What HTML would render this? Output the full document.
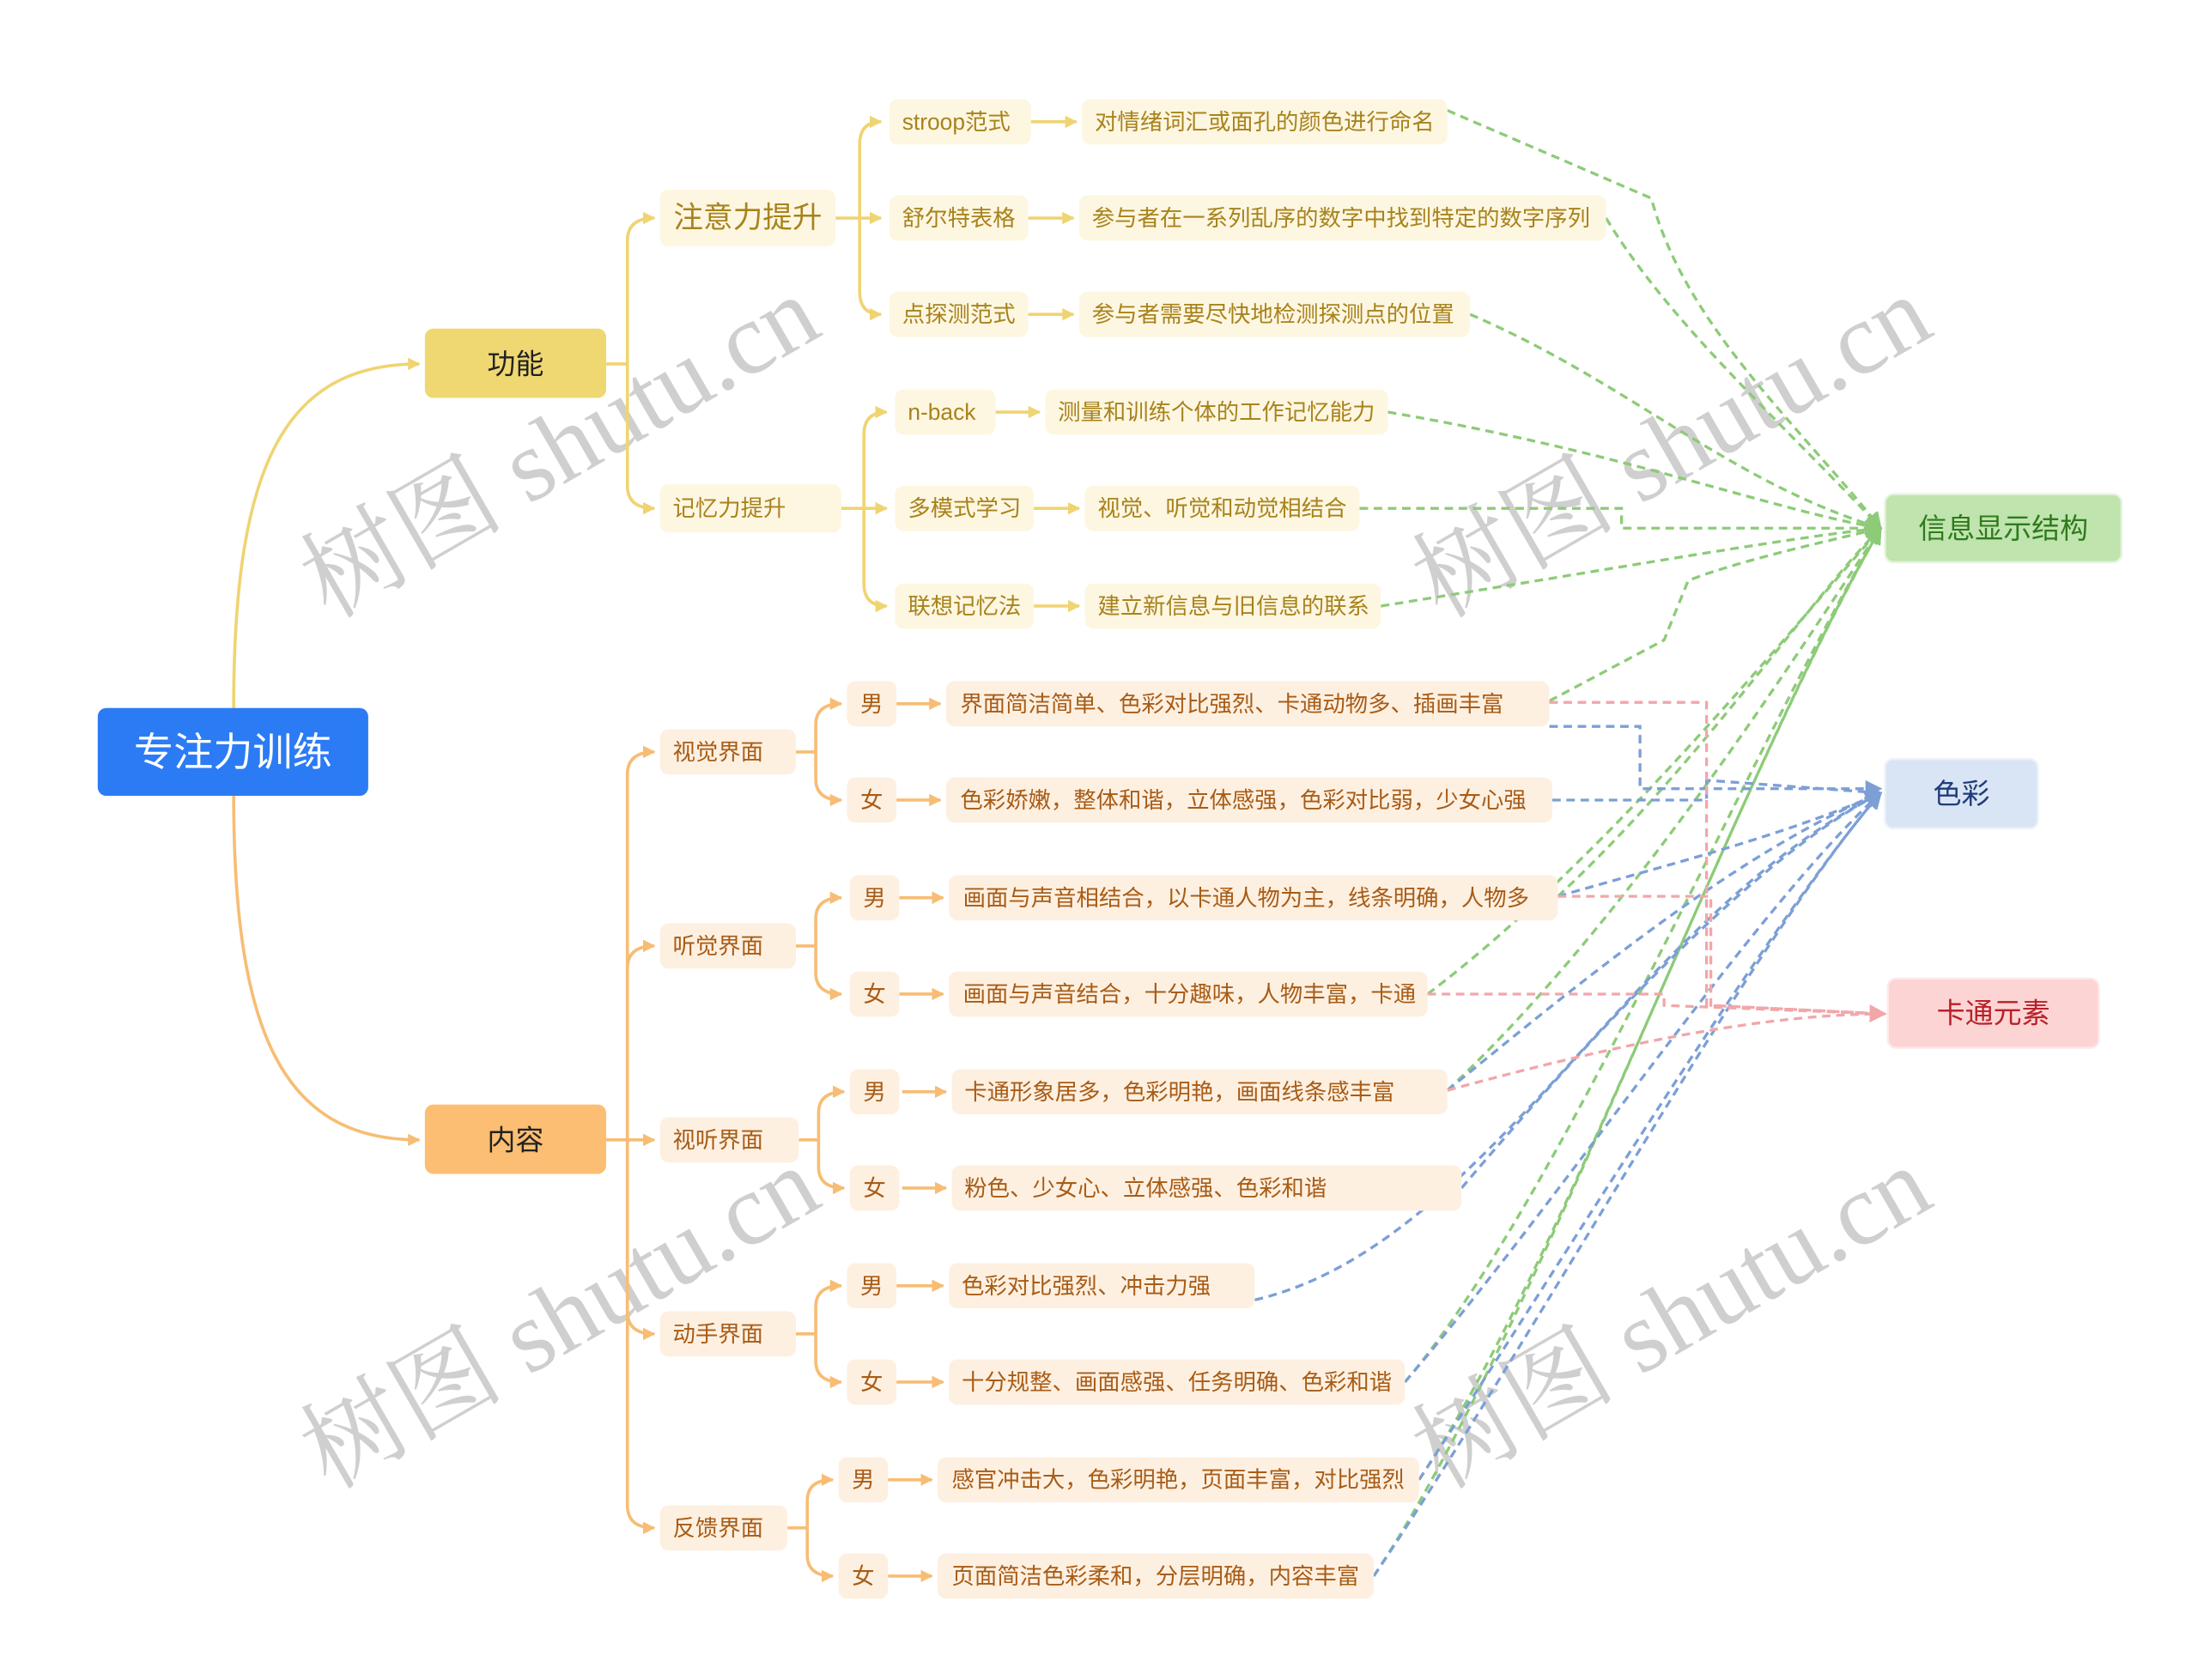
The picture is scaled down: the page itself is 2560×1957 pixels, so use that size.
<!DOCTYPE html>
<html><head><meta charset="utf-8"><style>
html,body{margin:0;padding:0;background:#fff;}
svg{display:block;}
text{font-family:"Liberation Sans","Noto Sans CJK SC",sans-serif;}
.wm{font-family:"Liberation Serif","Noto Serif CJK SC",serif;fill:#cfcfcf;font-size:72px;}
.y{fill:#fdf6e1}.o{fill:#fef0e1}
.yt{fill:#a8831c;font-size:16px}.ot{fill:#a85c16;font-size:16px}
</style></head><body>
<svg width="2560" height="1957" viewBox="0 0 1552 1186.4" preserveAspectRatio="none" xmlns="http://www.w3.org/2000/svg">
<defs>
<marker id="ay" viewBox="0 0 10 10" refX="9" refY="5" markerWidth="4" markerHeight="4" orient="auto"><path d="M0,0L10,5L0,10z" fill="#efd472"/></marker>
<marker id="ao" viewBox="0 0 10 10" refX="9" refY="5" markerWidth="4" markerHeight="4" orient="auto"><path d="M0,0L10,5L0,10z" fill="#f7bd74"/></marker>
<marker id="ag" viewBox="0 0 10 10" refX="9" refY="5" markerWidth="6" markerHeight="6" orient="auto"><path d="M0,0L10,5L0,10z" fill="#8dcb78"/></marker>
<marker id="ab" viewBox="0 0 10 10" refX="9" refY="5" markerWidth="6" markerHeight="6" orient="auto"><path d="M0,0L10,5L0,10z" fill="#7c9fd6"/></marker>
<marker id="ap" viewBox="0 0 10 10" refX="9" refY="5" markerWidth="6" markerHeight="6" orient="auto"><path d="M0,0L10,5L0,10z" fill="#f1a7aa"/></marker>
</defs>

<!-- watermarks -->
<g transform="rotate(-30 395 315)"><text class="wm" x="395" y="340" text-anchor="middle">树图 shutu.cn</text></g>
<g transform="rotate(-30 1180 315)"><text class="wm" x="1180" y="340" text-anchor="middle">树图 shutu.cn</text></g>
<g transform="rotate(-30 395 930)"><text class="wm" x="395" y="955" text-anchor="middle">树图 shutu.cn</text></g>
<g transform="rotate(-30 1180 930)"><text class="wm" x="1180" y="955" text-anchor="middle">树图 shutu.cn</text></g>

<!-- tree connectors yellow -->
<g fill="none" stroke="#efd472" stroke-width="2.2">
<path d="M165,500 C165,330 200,257 296,257" marker-end="url(#ay)"/>
<path d="M428,257 H443"/>
<path d="M443,257 V170 Q443,154 462,154" marker-end="url(#ay)"/>
<path d="M443,257 V343 Q443,359 462,359" marker-end="url(#ay)"/>
<path d="M590,154 H622" marker-end="url(#ay)"/>
<path d="M607,154 V102 Q607,86 622,86" marker-end="url(#ay)"/>
<path d="M607,154 V206 Q607,222 622,222" marker-end="url(#ay)"/>
<path d="M594,359 H626" marker-end="url(#ay)"/>
<path d="M610,359 V307 Q610,291 626,291" marker-end="url(#ay)"/>
<path d="M610,359 V412 Q610,428 626,428" marker-end="url(#ay)"/>
<path d="M728,86 H760" marker-end="url(#ay)"/>
<path d="M726,154 H758" marker-end="url(#ay)"/>
<path d="M726,222 H758" marker-end="url(#ay)"/>
<path d="M703,291 H734" marker-end="url(#ay)"/>
<path d="M730,359 H762" marker-end="url(#ay)"/>
<path d="M730,428 H762" marker-end="url(#ay)"/>
</g>
<!-- tree connectors orange -->
<g fill="none" stroke="#f7bd74" stroke-width="2.2">
<path d="M165,562 C165,730 200,805 296,805" marker-end="url(#ao)"/>
<path d="M428,805 H462" marker-end="url(#ao)"/>
<path d="M443,805 V547 Q443,531 462,531" marker-end="url(#ao)"/>
<path d="M443,805 V684 Q443,668 462,668" marker-end="url(#ao)"/>
<path d="M443,805 V926 Q443,942 462,942" marker-end="url(#ao)"/>
<path d="M443,805 V1063 Q443,1079 462,1079" marker-end="url(#ao)"/>
<path d="M562,531 H576 M576,531 V512 Q576,497 594,497" marker-end="url(#ao)"/>
<path d="M576,531 V550 Q576,565 594,565" marker-end="url(#ao)"/>
<path d="M562,668 H576 M576,668 V649 Q576,634 594,634" marker-end="url(#ao)"/>
<path d="M576,668 V687 Q576,702 594,702" marker-end="url(#ao)"/>
<path d="M564,805 H578 M578,805 V786 Q578,771 596,771" marker-end="url(#ao)"/>
<path d="M578,805 V824 Q578,839 596,839" marker-end="url(#ao)"/>
<path d="M562,942 H576 M576,942 V923 Q576,908 594,908" marker-end="url(#ao)"/>
<path d="M576,942 V961 Q576,976 594,976" marker-end="url(#ao)"/>
<path d="M556,1079 H570 M570,1079 V1060 Q570,1045 588,1045" marker-end="url(#ao)"/>
<path d="M570,1079 V1098 Q570,1113 588,1113" marker-end="url(#ao)"/>
<path d="M633,497 H664" marker-end="url(#ao)"/>
<path d="M633,565 H664" marker-end="url(#ao)"/>
<path d="M635,634 H666" marker-end="url(#ao)"/>
<path d="M635,702 H666" marker-end="url(#ao)"/>
<path d="M637,771 H668" marker-end="url(#ao)"/>
<path d="M637,839 H668" marker-end="url(#ao)"/>
<path d="M633,908 H666" marker-end="url(#ao)"/>
<path d="M633,976 H666" marker-end="url(#ao)"/>
<path d="M627,1045 H658" marker-end="url(#ao)"/>
<path d="M627,1113 H658" marker-end="url(#ao)"/>
</g>

<!-- dashed green -->
<g fill="none" stroke="#8dcb78" stroke-width="2" stroke-dasharray="6,4">
<path d="M1022,78 L1166,140 C1190,230 1270,300 1328,373" marker-end="url(#ag)"/>
<path d="M1134,154 C1180,230 1260,300 1328,373" marker-end="url(#ag)"/>
<path d="M1038,222 C1150,270 1220,340 1328,373" marker-end="url(#ag)"/>
<path d="M980,291 C1150,320 1250,360 1328,373" marker-end="url(#ag)"/>
<path d="M960,359 H1145 V373 H1328" marker-end="url(#ag)"/>
<path d="M975,428 C1150,400 1260,380 1328,373" marker-end="url(#ag)"/>
<path d="M1094,495 L1175,452 L1192,410 C1230,395 1300,380 1328,373" marker-end="url(#ag)"/>
<path d="M1100,633 C1200,540 1280,420 1328,373" marker-end="url(#ag)"/>
<path d="M1008,702 C1130,610 1260,450 1328,373" marker-end="url(#ag)"/>
<path d="M1022,770 C1150,650 1270,460 1328,373" marker-end="url(#ag)"/>
<path d="M992,976 C1100,850 1240,520 1328,373" marker-end="url(#ag)"/>
<path d="M1002,1045 C1100,900 1230,540 1328,373" marker-end="url(#ag)"/>
<path d="M970,1113 C1080,950 1220,560 1328,373" marker-end="url(#ag)"/>
</g>
<!-- dashed blue -->
<g fill="none" stroke="#7c9fd6" stroke-width="2" stroke-dasharray="6,4">
<path d="M1094,513 H1158 V557 H1328" marker-end="url(#ab)"/>
<path d="M1096,565 H1205 V551 L1328,560" marker-end="url(#ab)"/>
<path d="M1022,770 C1120,690 1230,600 1328,560" marker-end="url(#ab)"/>
<path d="M1032,839 C1150,700 1250,600 1328,560" marker-end="url(#ab)"/>
<path d="M886,918 C1050,880 1150,650 1328,560" marker-end="url(#ab)"/>
<path d="M992,976 C1100,850 1240,640 1328,560" marker-end="url(#ab)"/>
<path d="M1002,1045 C1110,880 1250,650 1328,560" marker-end="url(#ab)"/>
<path d="M970,1113 C1080,950 1240,660 1328,560" marker-end="url(#ab)"/>
<path d="M1100,633 C1180,610 1260,590 1328,560" marker-end="url(#ab)"/>
</g>
<!-- dashed pink -->
<g fill="none" stroke="#f1a7aa" stroke-width="2" stroke-dasharray="6,4">
<path d="M1094,496 H1205 V710 L1331,716" marker-end="url(#ap)"/>
<path d="M1100,633 H1208 V710 L1331,716" marker-end="url(#ap)"/>
<path d="M1008,702 H1175 V710 L1331,716" marker-end="url(#ap)"/>
<path d="M1022,770 C1150,735 1250,716 1331,716" marker-end="url(#ap)"/>
</g>

<!-- nodes -->
<rect x="69" y="500" width="191" height="62" rx="6" fill="#2b7bf5"/>
<text x="164.5" y="531" text-anchor="middle" dominant-baseline="central" fill="#fff" font-size="28">专注力训练</text>
<rect x="300" y="232" width="128" height="49" rx="6" fill="#efd872"/>
<text x="364" y="257" text-anchor="middle" dominant-baseline="central" fill="#222" font-size="20">功能</text>
<rect x="300" y="780" width="128" height="49" rx="6" fill="#fbbe72"/>
<text x="364" y="805" text-anchor="middle" dominant-baseline="central" fill="#222" font-size="20">内容</text>

<rect class="y" x="466" y="134" width="124" height="40" rx="6"/><text class="yt" style="font-size:21px" x="528" y="154" text-anchor="middle" dominant-baseline="central">注意力提升</text>
<rect class="y" x="466" y="342" width="128" height="34" rx="6"/><text class="yt" x="475" y="359" dominant-baseline="central">记忆力提升</text>

<rect class="y" x="628" y="70" width="100" height="32" rx="6"/><text class="yt" x="637" y="86" dominant-baseline="central">stroop范式</text>
<rect class="y" x="764" y="70" width="258" height="32" rx="6"/><text class="yt" x="773" y="86" dominant-baseline="central">对情绪词汇或面孔的颜色进行命名</text>
<rect class="y" x="628" y="138" width="98" height="32" rx="6"/><text class="yt" x="637" y="154" dominant-baseline="central">舒尔特表格</text>
<rect class="y" x="762" y="138" width="372" height="32" rx="6"/><text class="yt" x="771" y="154" dominant-baseline="central">参与者在一系列乱序的数字中找到特定的数字序列</text>
<rect class="y" x="628" y="206" width="98" height="32" rx="6"/><text class="yt" x="637" y="222" dominant-baseline="central">点探测范式</text>
<rect class="y" x="762" y="206" width="276" height="32" rx="6"/><text class="yt" x="771" y="222" dominant-baseline="central">参与者需要尽快地检测探测点的位置</text>
<rect class="y" x="632" y="275" width="71" height="32" rx="6"/><text class="yt" x="641" y="291" dominant-baseline="central">n-back</text>
<rect class="y" x="738" y="275" width="242" height="32" rx="6"/><text class="yt" x="747" y="291" dominant-baseline="central">测量和训练个体的工作记忆能力</text>
<rect class="y" x="632" y="343" width="98" height="32" rx="6"/><text class="yt" x="641" y="359" dominant-baseline="central">多模式学习</text>
<rect class="y" x="766" y="343" width="194" height="32" rx="6"/><text class="yt" x="775" y="359" dominant-baseline="central">视觉、听觉和动觉相结合</text>
<rect class="y" x="632" y="412" width="98" height="32" rx="6"/><text class="yt" x="641" y="428" dominant-baseline="central">联想记忆法</text>
<rect class="y" x="766" y="412" width="209" height="32" rx="6"/><text class="yt" x="775" y="428" dominant-baseline="central">建立新信息与旧信息的联系</text>

<rect class="o" x="466" y="515" width="96" height="32" rx="6"/><text class="ot" x="475" y="531" dominant-baseline="central">视觉界面</text>
<rect class="o" x="466" y="652" width="96" height="32" rx="6"/><text class="ot" x="475" y="668" dominant-baseline="central">听觉界面</text>
<rect class="o" x="466" y="789" width="98" height="32" rx="6"/><text class="ot" x="475" y="805" dominant-baseline="central">视听界面</text>
<rect class="o" x="466" y="926" width="96" height="32" rx="6"/><text class="ot" x="475" y="942" dominant-baseline="central">动手界面</text>
<rect class="o" x="466" y="1063" width="90" height="32" rx="6"/><text class="ot" x="475" y="1079" dominant-baseline="central">反馈界面</text>

<rect class="o" x="598" y="481" width="35" height="32" rx="6"/><text class="ot" x="615.5" y="497" text-anchor="middle" dominant-baseline="central">男</text>
<rect class="o" x="668" y="481" width="426" height="32" rx="6"/><text class="ot" x="678" y="497" dominant-baseline="central">界面简洁简单、色彩对比强烈、卡通动物多、插画丰富</text>
<rect class="o" x="598" y="549" width="35" height="32" rx="6"/><text class="ot" x="615.5" y="565" text-anchor="middle" dominant-baseline="central">女</text>
<rect class="o" x="668" y="549" width="428" height="32" rx="6"/><text class="ot" x="678" y="565" dominant-baseline="central">色彩娇嫩，整体和谐，立体感强，色彩对比弱，少女心强</text>
<rect class="o" x="600" y="618" width="35" height="32" rx="6"/><text class="ot" x="617.5" y="634" text-anchor="middle" dominant-baseline="central">男</text>
<rect class="o" x="670" y="618" width="430" height="32" rx="6"/><text class="ot" x="680" y="634" dominant-baseline="central">画面与声音相结合，以卡通人物为主，线条明确，人物多</text>
<rect class="o" x="600" y="686" width="35" height="32" rx="6"/><text class="ot" x="617.5" y="702" text-anchor="middle" dominant-baseline="central">女</text>
<rect class="o" x="670" y="686" width="338" height="32" rx="6"/><text class="ot" x="680" y="702" dominant-baseline="central">画面与声音结合，十分趣味，人物丰富，卡通</text>
<rect class="o" x="600" y="755" width="35" height="32" rx="6"/><text class="ot" x="617.5" y="771" text-anchor="middle" dominant-baseline="central">男</text>
<rect class="o" x="672" y="755" width="350" height="32" rx="6"/><text class="ot" x="681" y="771" dominant-baseline="central">卡通形象居多，色彩明艳，画面线条感丰富</text>
<rect class="o" x="600" y="823" width="35" height="32" rx="6"/><text class="ot" x="617.5" y="839" text-anchor="middle" dominant-baseline="central">女</text>
<rect class="o" x="672" y="823" width="360" height="32" rx="6"/><text class="ot" x="681" y="839" dominant-baseline="central">粉色、少女心、立体感强、色彩和谐</text>
<rect class="o" x="598" y="892" width="35" height="32" rx="6"/><text class="ot" x="615.5" y="908" text-anchor="middle" dominant-baseline="central">男</text>
<rect class="o" x="670" y="892" width="216" height="32" rx="6"/><text class="ot" x="679" y="908" dominant-baseline="central">色彩对比强烈、冲击力强</text>
<rect class="o" x="598" y="960" width="35" height="32" rx="6"/><text class="ot" x="615.5" y="976" text-anchor="middle" dominant-baseline="central">女</text>
<rect class="o" x="670" y="960" width="322" height="32" rx="6"/><text class="ot" x="679" y="976" dominant-baseline="central">十分规整、画面感强、任务明确、色彩和谐</text>
<rect class="o" x="592" y="1029" width="35" height="32" rx="6"/><text class="ot" x="609.5" y="1045" text-anchor="middle" dominant-baseline="central">男</text>
<rect class="o" x="662" y="1029" width="340" height="32" rx="6"/><text class="ot" x="672" y="1045" dominant-baseline="central">感官冲击大，色彩明艳，页面丰富，对比强烈</text>
<rect class="o" x="592" y="1097" width="35" height="32" rx="6"/><text class="ot" x="609.5" y="1113" text-anchor="middle" dominant-baseline="central">女</text>
<rect class="o" x="662" y="1097" width="308" height="32" rx="6"/><text class="ot" x="672" y="1113" dominant-baseline="central">页面简洁色彩柔和，分层明确，内容丰富</text>

<rect x="1331" y="349" width="167" height="48" rx="6" fill="#bfe4ad" stroke="#e6f3df" stroke-width="1.5"/>
<text x="1414.5" y="373" text-anchor="middle" dominant-baseline="central" fill="#2f7a1e" font-size="20">信息显示结构</text>
<rect x="1331" y="536" width="108" height="49" rx="6" fill="#d9e4f5" stroke="#edf2fa" stroke-width="1.5"/>
<text x="1385" y="560.5" text-anchor="middle" dominant-baseline="central" fill="#1f3d78" font-size="20">色彩</text>
<rect x="1333" y="691" width="149" height="49" rx="6" fill="#fdd4d4" stroke="#fde9e9" stroke-width="1.5"/>
<text x="1407.5" y="715.5" text-anchor="middle" dominant-baseline="central" fill="#b8212a" font-size="20">卡通元素</text>
</svg>
</body></html>
